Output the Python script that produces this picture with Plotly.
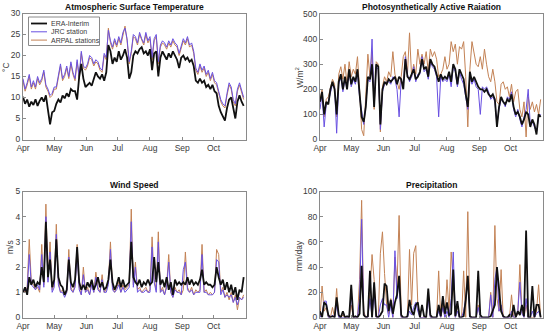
import pandas as pd
import plotly.graph_objects as go

# ---- data (sampled every 2 days from 1 Apr to 30 Oct) ----
DATES = pd.date_range("2013-04-01", periods=107, freq="2D")

TEMP_ERA = [10.2, 8.5, 9.5, 7.8, 9.0, 8.2, 9.6, 8.0, 9.2, 10.0,
            9.0, 10.5, 7.0, 3.6, 6.5, 6.8, 8.5, 9.5, 8.8, 10.5,
            9.8, 11.0, 10.2, 12.0, 11.5, 11.5, 9.5, 15.0, 18.0, 14.5,
            12.5, 13.0, 13.5, 12.8, 14.5, 16.0, 15.0, 14.5, 15.5, 14.0,
            16.0, 22.5, 21.0, 18.0, 19.5, 18.5, 21.0, 19.0, 20.0, 21.5,
            19.5, 14.5, 16.0, 20.0, 21.0, 20.5, 21.5, 22.0, 20.5, 21.0,
            20.0, 21.5, 16.5, 20.5, 21.0, 15.0, 19.5, 21.0, 20.0, 19.0,
            20.5, 19.5, 21.0, 20.0, 19.0, 17.0, 19.5, 20.0, 19.0, 19.5,
            18.5, 19.0, 17.5, 14.0, 13.5, 14.5, 13.5, 14.0, 12.5, 13.0,
            12.0, 13.0, 11.5, 11.0, 8.0, 6.5, 5.5, 4.5, 7.5, 9.5,
            10.0, 7.0, 5.0, 9.0, 10.5, 9.0, 8.0]
TEMP_JRC = [14.5, 12.0, 13.5, 15.5, 12.5, 14.0, 12.5, 15.0, 13.5, 14.5,
            16.5, 13.0, 12.0, 10.5, 11.0, 12.5, 12.5, 15.0, 18.0, 14.5,
            15.5, 17.5, 15.0, 18.5, 16.0, 14.5, 19.0, 15.0, 21.0, 17.5,
            17.0, 18.0, 20.0, 19.5, 18.0, 19.0, 18.5, 17.0, 16.5, 20.5,
            19.5, 26.0, 23.5, 22.0, 24.0, 22.5, 24.5, 23.0, 25.5, 26.5,
            24.0, 18.5, 21.0, 25.0, 24.5, 23.0, 25.5, 24.0, 23.0, 25.5,
            23.5, 24.5, 19.5, 24.0, 25.0, 18.5, 22.5, 23.5, 23.0, 22.0,
            23.5, 22.5, 24.0, 23.0, 22.5, 20.5, 22.5, 24.0, 23.0, 24.5,
            22.5, 23.0, 21.0, 17.0, 16.0, 18.0, 16.5, 17.5, 15.5, 16.5,
            14.5, 16.0, 14.0, 13.5, 11.5, 9.5, 8.5, 8.0, 11.0, 13.5,
            12.5, 9.5, 8.5, 12.0, 13.5, 11.5, 10.0]
TEMP_ARPAL = [14.0, 11.5, 13.0, 15.0, 12.0, 13.5, 12.0, 14.5, 13.0, 14.0,
              16.0, 12.5, 11.5, 10.0, 10.5, 12.0, 12.0, 14.5, 17.5, 14.0,
              15.0, 17.0, 14.5, 18.0, 15.5, 14.0, 18.5, 14.5, 20.5, 17.0,
              16.5, 17.5, 19.5, 19.0, 17.5, 18.5, 18.0, 16.5, 16.0, 20.0,
              19.0, 26.5, 23.0, 21.5, 23.5, 22.0, 24.0, 22.5, 25.0, 27.0,
              23.5, 18.0, 20.5, 24.5, 24.0, 22.5, 25.0, 23.5, 22.5, 25.0,
              23.0, 24.0, 19.0, 23.5, 24.5, 18.0, 22.0, 23.0, 22.5, 21.5,
              23.0, 22.0, 23.5, 22.5, 22.0, 20.0, 22.0, 23.5, 22.5, 24.0,
              22.0, 22.5, 20.5, 16.5, 15.5, 17.5, 16.0, 17.0, 15.0, 16.0,
              14.0, 15.5, 13.5, 13.0, 11.0, 9.0, 8.0, 7.5, 10.5, 13.0,
              12.0, 9.0, 8.0, 11.5, 13.0, 11.0, 9.5]

PAR_ERA = [150, 190, 100, 150, 140, 200, 230, 200, 100, 230,
           260, 200, 250, 200, 280, 220, 250, 230, 280, 180,
           90, 70, 130, 250, 240, 300, 130, 300, 290, 60,
           200, 230, 220, 240, 230, 240, 250, 220, 250, 240,
           200, 320, 250, 240, 260, 280, 240, 250, 270, 320,
           280, 290, 250, 320, 300, 290, 260, 230, 260, 240,
           250, 240, 270, 230, 300, 280, 220, 280, 260, 240,
           180, 130, 270, 230, 250, 230, 210, 200, 200, 190,
           200, 180, 170, 180, 160, 50, 130, 170, 150, 140,
           160, 150, 180, 130, 100, 110, 90, 60, 80, 110,
           100, 50, 80, 60, 20, 100, 90]
PAR_JRC = [120, 180, 50, 140, 150, 190, 220, 210, 25, 220,
           250, 190, 240, 210, 270, 210, 240, 220, 270, 170,
           110, 60, 140, 240, 230, 400, 140, 290, 280, 40,
           190, 220, 230, 230, 220, 250, 240, 200, 90, 240,
           210, 330, 260, 230, 250, 290, 230, 260, 260, 330,
           270, 280, 240, 310, 290, 280, 250, 90, 250, 230,
           240, 230, 260, 210, 290, 270, 210, 270, 240, 220,
           170, 120, 250, 220, 240, 210, 200, 100, 210, 200,
           210, 190, 160, 170, 150, 60, 120, 160, 150, 130,
           170, 160, 190, 120, 90, 120, 80, 50, 90, 120,
           200, 60, 70, 50, 30, 90, 100]
PAR_ARPAL = [160, 200, 90, 160, 170, 210, 240, 220, 90, 260,
             290, 240, 300, 220, 310, 250, 280, 260, 330, 200,
             40, 15, 180, 340, 250, 350, 120, 310, 300, 30,
             210, 250, 230, 270, 250, 350, 260, 230, 200, 250,
             330, 350, 260, 425, 250, 300, 260, 360, 300, 340,
             300, 350, 270, 360, 330, 350, 320, 250, 260, 280,
             330, 280, 300, 390, 350, 380, 300, 370, 360, 390,
             250, 50, 280, 390, 350, 300, 290, 330, 280, 360,
             300, 250, 230, 280, 230, 150, 140, 220, 230, 200,
             210, 170, 220, 150, 190, 200, 120, 90, 150, 10,
             170, 120, 150, 110, 140, 100, 160]

WIND_ERA = [1.0, 1.2, 0.9, 1.6, 1.3, 1.5, 1.2, 1.4, 1.3, 2.0,
            1.4, 3.8, 1.6, 2.3, 1.2, 1.5, 3.1, 1.6, 1.3, 1.2,
            0.9, 1.1, 2.3, 1.4, 1.2, 1.5, 2.8, 1.4, 1.1, 1.3,
            1.1, 1.4, 1.2, 1.5, 1.1, 1.3, 1.6, 1.2, 1.4, 1.1,
            1.2, 1.5, 2.3, 1.4, 1.1, 1.3, 1.6, 1.2, 1.5, 1.2,
            1.3, 1.4, 3.0, 1.6, 1.4, 1.3, 1.5, 1.2, 1.4, 1.3,
            1.5, 1.3, 1.4, 2.4, 1.4, 2.2, 1.3, 1.5, 1.2, 1.6,
            1.1, 1.4, 0.9, 1.5, 1.3, 1.4, 1.3, 1.4, 1.3, 1.6,
            1.3, 1.5, 1.3, 1.4, 1.3, 1.5, 1.9, 1.3, 1.4, 1.3,
            1.3, 1.2, 1.3, 2.0, 1.6, 1.3, 1.5, 1.1, 1.4, 1.0,
            1.3, 0.9, 1.2, 0.7, 1.1, 1.0, 1.6]
WIND_JRC = [1.0, 1.1, 1.1, 2.5, 1.3, 1.2, 1.1, 1.3, 1.1, 2.5,
            1.2, 4.0, 1.4, 2.6, 1.0, 1.2, 3.3, 1.3, 1.0, 1.0,
            0.8, 1.0, 2.4, 1.1, 1.0, 1.2, 2.6, 1.1, 0.9, 1.7,
            1.0, 1.1, 0.9, 1.3, 1.0, 1.6, 1.1, 1.0, 1.5, 1.0,
            1.0, 1.3, 2.7, 1.1, 1.0, 1.1, 1.3, 1.0, 1.2, 1.0,
            1.1, 1.2, 3.8, 1.2, 2.0, 1.0, 1.1, 1.0, 1.0, 1.1,
            1.0, 1.0, 2.8, 1.4, 1.0, 3.0, 1.0, 1.1, 0.9, 1.2,
            2.2, 1.0, 0.8, 1.1, 1.0, 1.0, 0.9, 1.9, 2.2, 1.1,
            1.0, 1.1, 0.9, 1.0, 1.0, 1.0, 2.5, 1.0, 1.0, 0.9,
            0.9, 0.9, 1.0, 2.3, 2.2, 0.9, 1.1, 0.8, 0.9, 0.8,
            0.9, 0.6, 0.8, 0.5, 0.8, 0.7, 0.8]
WIND_ARPAL = [1.1, 1.0, 1.2, 3.1, 1.4, 1.3, 1.1, 1.2, 1.0, 2.9,
              1.3, 4.5, 1.5, 3.0, 1.1, 1.3, 3.7, 1.4, 1.0, 1.1,
              0.9, 1.0, 2.7, 1.2, 1.0, 1.3, 2.9, 1.2, 0.9, 2.0,
              1.0, 1.2, 0.9, 1.4, 1.0, 1.8, 1.2, 1.0, 1.7, 1.0,
              1.1, 1.4, 3.0, 1.2, 1.0, 1.2, 1.4, 1.0, 1.3, 1.1,
              1.2, 1.3, 4.3, 1.3, 2.2, 1.1, 1.2, 1.0, 1.1, 1.2,
              1.0, 1.1, 3.2, 1.5, 1.1, 3.4, 1.0, 1.2, 0.9, 1.3,
              2.5, 1.0, 0.8, 1.2, 1.0, 1.1, 0.9, 1.1, 2.6, 1.2,
              1.0, 1.2, 0.9, 1.1, 1.0, 1.1, 2.9, 1.0, 1.1, 0.9,
              1.0, 0.9, 1.0, 2.7, 2.5, 1.0, 1.2, 0.8, 1.0, 0.7,
              1.0, 0.6, 0.9, 0.3, 0.8, 0.7, 0.9]

PREC_ERA = [5, 0, 12, 10, 2, 0, 1, 0, 16, 2,
            0, 5, 0, 1, 0, 26, 0, 1, 0, 3,
            41, 2, 0, 1, 37, 0, 28, 1, 0, 2,
            5, 27, 25, 5, 14, 3, 12, 18, 33, 2,
            0, 0, 1, 14, 5, 2, 10, 12, 0, 10,
            1, 0, 23, 2, 0, 0, 0, 10, 1, 17,
            3, 12, 2, 3, 38, 1, 13, 0, 0, 1,
            14, 33, 1, 0, 0, 0, 37, 2, 0, 0,
            0, 0, 1, 5, 10, 40, 20, 5, 1, 0,
            0, 2, 0, 10, 0, 5, 2, 10, 1, 69,
            0, 0, 25, 0, 10, 10, 0]
PREC_JRC = [0, 3, 13, 13, 0, 0, 2, 0, 10, 0,
            0, 0, 0, 0, 0, 20, 0, 0, 0, 15,
            78, 3, 0, 0, 15, 0, 20, 0, 0, 10,
            15, 10, 10, 0, 10, 0, 53, 15, 30, 0,
            0, 0, 0, 5, 2, 8, 12, 5, 0, 0,
            0, 0, 15, 0, 0, 0, 0, 5, 0, 8,
            0, 5, 0, 15, 52, 0, 5, 0, 0, 5,
            15, 30, 0, 0, 0, 0, 8, 0, 0, 0,
            0, 0, 18, 0, 30, 40, 5, 10, 0, 0,
            0, 0, 5, 0, 0, 5, 28, 3, 0, 15,
            0, 0, 5, 0, 3, 5, 0]
PREC_ARPAL = [0, 25, 5, 8, 0, 0, 8, 0, 23, 0,
              0, 2, 0, 0, 0, 10, 0, 0, 0, 30,
              93, 5, 0, 0, 20, 50, 30, 0, 0, 51,
              68, 35, 10, 3, 15, 0, 48, 25, 81, 0,
              0, 0, 0, 54, 10, 51, 57, 10, 0, 0,
              0, 0, 20, 0, 0, 0, 0, 37, 0, 10,
              0, 30, 5, 52, 30, 0, 10, 0, 0, 37,
              0, 84, 0, 0, 0, 0, 10, 0, 0, 0,
              0, 0, 20, 0, 73, 15, 5, 38, 0, 0,
              0, 0, 18, 0, 0, 3, 42, 5, 0, 10,
              0, 0, 0, 0, 5, 26, 0]

MONTH_TICKS = ["2013-04-01", "2013-05-01", "2013-06-01", "2013-07-01",
               "2013-08-01", "2013-09-01", "2013-10-01"]
MONTH_LABELS = ["Apr", "May", "Jun", "Jul", "Aug", "Sep", "Oct"]
SERIES_NAMES = ["ERA-Interim", "JRC station", "ARPAL stations"]

PANELS = [
    ("Atmospheric Surface Temperature", "°C", TEMP_ERA, TEMP_JRC, TEMP_ARPAL, [0, 30], 5),
    ("Photosynthetically Active Raiation", "W/m<sup>2</sup>", PAR_ERA, PAR_JRC, PAR_ARPAL, [0, 500], 100),
    ("Wind Speed", "m/s", WIND_ERA, WIND_JRC, WIND_ARPAL, [0, 5], 1),
    ("Precipitation", "mm/day", PREC_ERA, PREC_JRC, PREC_ARPAL, [0, 100], 20),
]

# ---- styling ----
W, H = 550, 335
COL_ERA = "#111111"
COL_JRC = "rgb(105,80,225)"
COL_ARPAL = "rgb(195,130,85)"
AXIS_COL = "#8a8a8a"
TXT_COL = "#3a3a3a"
FONT = "Liberation Sans, Arial, sans-serif"
TICK_SIZE = 8.5

def px_x(p):
    return p / W

def px_y(p):
    return 1 - p / H

# panel boxes in pixels: (left, right, top, bottom)
BOXES = [(23, 245.5, 13.5, 139.5), (320, 542.5, 14, 139.5),
         (23, 245.5, 191.5, 317.5), (320, 542.5, 191.5, 317.5)]
TITLE_Y = [7, 7, 185, 185]
YLAB = [(6, 67), (299, 77), (10, 247), (299, 255)]

fig = go.Figure()
layout = dict(width=W, height=H, margin=dict(l=0, r=0, t=0, b=0, autoexpand=False),
              template="none",
              paper_bgcolor="white", plot_bgcolor="white", showlegend=False,
              font=dict(family=FONT, size=9, color=TXT_COL))
annotations = []
shapes = []

for k, (title, ylab, era, jrc, arpal, yr, dt) in enumerate(PANELS):
    sfx = "" if k == 0 else str(k + 1)
    xa, ya = "x" + sfx, "y" + sfx
    for vals, col, wid, name in [(arpal, COL_ARPAL, 1.0, SERIES_NAMES[2]),
                                 (jrc, COL_JRC, 1.0, SERIES_NAMES[1]),
                                 (era, COL_ERA, 1.8, SERIES_NAMES[0])]:
        fig.add_trace(go.Scatter(x=DATES, y=vals, mode="lines", name=name,
                                 line=dict(color=col, width=wid),
                                 xaxis=xa, yaxis=ya))
    l, r, t, b = BOXES[k]
    layout["xaxis" + sfx] = dict(
        domain=[px_x(l), px_x(r)], anchor=ya, range=["2013-04-01", "2013-10-31T18:00"],
        tickvals=MONTH_TICKS, ticktext=MONTH_LABELS, ticks="inside", ticklen=3,
        tickcolor=AXIS_COL, showline=True, mirror=True, linecolor=AXIS_COL, linewidth=1,
        showgrid=False, zeroline=False, automargin=False,
        tickfont=dict(size=TICK_SIZE, color=TXT_COL))
    layout["yaxis" + sfx] = dict(
        domain=[px_y(b), px_y(t)], anchor=xa, range=yr, dtick=dt, tick0=0,
        ticks="inside", ticklen=3, tickcolor=AXIS_COL, showline=True, mirror=True,
        linecolor=AXIS_COL, linewidth=1, showgrid=False, zeroline=False, automargin=False,
        tickfont=dict(size=TICK_SIZE, color=TXT_COL))
    annotations.append(dict(text="<b>" + title + "</b>", xref="paper", yref="paper",
                            x=px_x((l + r) / 2), y=px_y(TITLE_Y[k]), showarrow=False,
                            xanchor="center", yanchor="middle",
                            font=dict(size=8.5, color="#111111")))
    lx, ly = YLAB[k]
    annotations.append(dict(text=ylab, xref="paper", yref="paper", x=px_x(lx), y=px_y(ly),
                            showarrow=False, textangle=-90, xanchor="center",
                            yanchor="middle", font=dict(size=8.5, color=TXT_COL)))

# manual legend in the temperature panel
lg_l, lg_r, lg_t, lg_b = 28.5, 99.5, 17, 45.5
shapes.append(dict(type="rect", xref="paper", yref="paper",
                   x0=px_x(lg_l), x1=px_x(lg_r), y0=px_y(lg_b), y1=px_y(lg_t),
                   line=dict(color=AXIS_COL, width=1), fillcolor="white", layer="above"))
for j, (name, col, wid) in enumerate([(SERIES_NAMES[0], COL_ERA, 1.8),
                                      (SERIES_NAMES[1], COL_JRC, 1.0),
                                      (SERIES_NAMES[2], COL_ARPAL, 1.0)]):
    yy = 23.5 + j * 8.3
    shapes.append(dict(type="line", xref="paper", yref="paper",
                       x0=px_x(31), x1=px_x(47), y0=px_y(yy), y1=px_y(yy),
                       line=dict(color=col, width=wid), layer="above"))
    annotations.append(dict(text=name, xref="paper", yref="paper", x=px_x(48.5), y=px_y(yy),
                            showarrow=False, xanchor="left", yanchor="middle",
                            font=dict(size=7, color=TXT_COL)))

layout["annotations"] = annotations
layout["shapes"] = shapes
fig.update_layout(**layout)
fig.write_html("out.html", config={"displayModeBar": False},
               post_script="document.body.style.margin='0px';")
